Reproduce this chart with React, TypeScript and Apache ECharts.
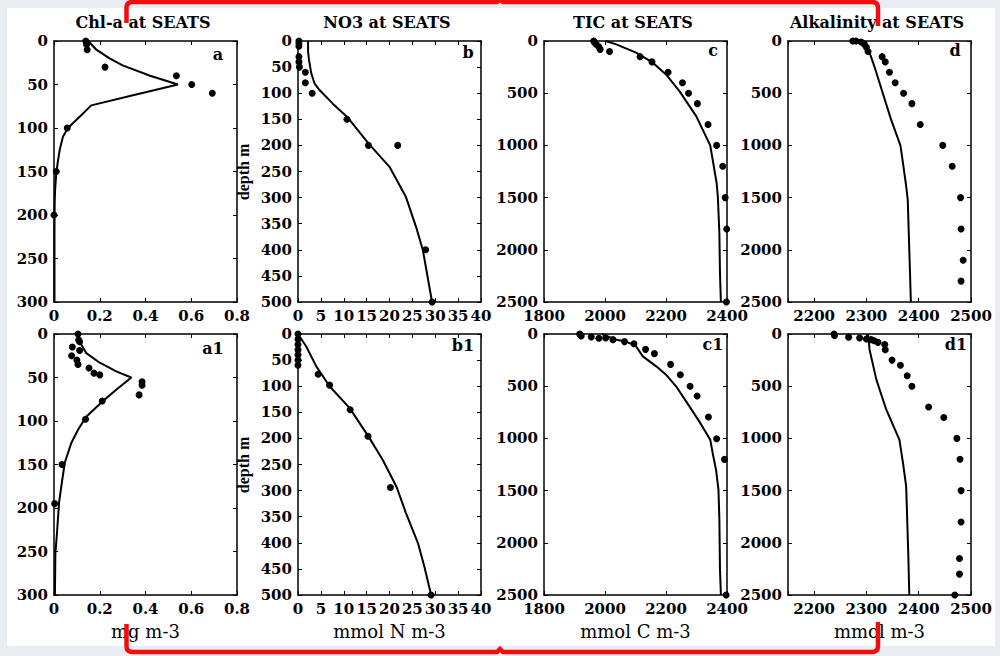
import React, { useEffect, useRef } from "react";
import * as echarts from "echarts";

// ---------- data (value, depth) ----------
const chlaModel: number[][] = [[0.15,0],[0.185,10],[0.243,20],[0.30,28],[0.42,40],[0.542,50],[0.35,62],[0.163,74],[0.12,85],[0.061,100],[0.039,110],[0.025,125],[0.016,140],[0.01,152],[0.005,170],[0.003,185],[0.002,220],[0.002,260],[0.002,300]];
const chlaObs: number[][] = [[0.139,0],[0.142,4],[0.145,10],[0.223,30],[0.535,40],[0.602,50],[0.692,60],[0.058,100],[0.01,150],[0,200]];

const no3Model: number[][] = [[2.2,0],[2.2,20],[2.4,36],[2.9,62],[3.6,81],[4.7,94],[7.6,120],[10.7,145],[15.4,196],[20,241],[23.6,299],[25.8,356],[27.3,401],[29.3,500]];
const no3Obs: number[][] = [[0.2,0],[0.2,5],[0.2,10],[0.2,30],[0.2,40],[0.3,50],[1.6,60],[1.6,80],[3.1,100],[10.7,150],[15.4,200],[21.8,200],[27.9,400],[29.3,500]];

const ticModel: number[][] = [[2002,0],[2037,32],[2102,112],[2157,208],[2200,320],[2244,480],[2299,720],[2345,1000],[2353,1136],[2366,1360],[2370,1490],[2375,1844],[2377,2228],[2380,2500]];
const ticObs: number[][] = [[1963,0],[1966,15],[1971,30],[1980,55],[1984,80],[2015,100],[2115,150],[2154,200],[2207,300],[2254,400],[2274,500],[2303,600],[2338,800],[2366,1000],[2386,1200],[2394,1500],[2399,1800],[2398,2500]];

const alkModel: number[][] = [[2280,0],[2293,32],[2306,112],[2315,240],[2331,496],[2347,751],[2365,1000],[2369,1136],[2376,1391],[2379,1519],[2381,1844],[2383,2164],[2385,2500]];
const alkObs: number[][] = [[2274,0],[2280,0],[2290,10],[2296,30],[2300,60],[2303,100],[2330,150],[2336,200],[2344,300],[2355,400],[2371,500],[2387,600],[2403,800],[2446,1000],[2464,1200],[2480,1500],[2481,1800],[2485,2100],[2481,2300]];

const chla1Model: number[][] = [[0.105,0],[0.119,12],[0.141,22],[0.2,33],[0.272,43],[0.338,50],[0.272,64],[0.214,77],[0.141,95],[0.105,110],[0.076,125],[0.047,148],[0.032,175],[0.022,194],[0.013,229],[0.006,252],[0.004,300]];
const chla1Obs: number[][] = [[0.105,0],[0.108,7],[0.112,9],[0.08,15],[0.112,19],[0.077,25],[0.1,30],[0.105,35],[0.153,39],[0.175,45],[0.2,47],[0.385,55],[0.385,59],[0.372,70],[0.211,77],[0.138,98],[0.035,150],[0.003,195]];

const no31Model: number[][] = [[0,0],[1.8,24],[4,62],[6.9,100],[11.3,142],[15.6,199],[18.5,241],[21.5,292],[23.6,343],[26.2,400],[27.6,445],[29.1,500]];
const no31Obs: number[][] = [[0,0],[0,10],[0,20],[0,30],[0,40],[0,50],[0,60],[4.4,77],[6.9,98],[11.4,145],[15.3,196],[20.2,294],[29.1,500]];

const tic1Model: number[][] = [[1990,0],[2030,50],[2070,75],[2100,110],[2124,214],[2168,310],[2200,390],[2233,501],[2266,645],[2309,837],[2345,1012],[2353,1140],[2364,1300],[2372,1491],[2375,1778],[2377,2257],[2380,2500]];
const tic1Obs: number[][] = [[1917,0],[1920,10],[1922,20],[1955,29],[1980,40],[2002,38],[2026,54],[2064,73],[2095,93],[2133,147],[2162,188],[2215,291],[2247,390],[2279,501],[2302,594],[2339,795],[2366,1003],[2392,1201],[2397,2500]];

const alk1Model: number[][] = [[2303,0],[2306,150],[2319,437],[2338,725],[2363,1012],[2370,1236],[2376,1460],[2378,1778],[2380,2098],[2382,2500]];
const alk1Obs: number[][] = [[2238,0],[2239,15],[2266,30],[2287,38],[2300,48],[2309,54],[2315,64],[2322,80],[2335,100],[2336,150],[2349,250],[2365,300],[2378,400],[2387,500],[2419,700],[2448,800],[2473,1000],[2479,1200],[2481,1500],[2481,1800],[2478,2150],[2478,2300],[2469,2500]];

const titles = ["Chl-a at SEATS", "NO3 at SEATS", "TIC at SEATS", "Alkalinity at SEATS"];
const letters = ["a", "b", "c", "d", "a1", "b1", "c1", "d1"];
const units = ["mg m-3", "mmol N m-3", "mmol C m-3", "mmol m-3"];
const xMins = [0, 0, 1800, 2150];
const xMaxs = [0.8, 40, 2400, 2500];
const xSteps = [0.2, 5, 200, 100];
const depthMaxs = [300, 500, 2500, 2500];
const depthSteps = [50, 50, 500, 500];
const models = [chlaModel, no3Model, ticModel, alkModel, chla1Model, no31Model, tic1Model, alk1Model];
const observations = [chlaObs, no3Obs, ticObs, alkObs, chla1Obs, no31Obs, tic1Obs, alk1Obs];

// ---------- layout ----------
const FONT = "DejaVu Serif";
const LEFTS = [54, 298, 544, 788];
const TOPS = [41, 334];
const GW = 183;
const GH = 261;

export default function App() {
  const ref = useRef<HTMLDivElement>(null);

  useEffect(() => {
    if (!ref.current) return;
    echarts.graphic.registerShape(
      "bracketTop",
      echarts.graphic.extendPath(
        "M126.5,23 L126.5,8 Q126.5,2 132.5,2 L497,2 L500,0 L503,2 L872,2 Q878,2 878,8 L878,26",
        {}
      )
    );
    echarts.graphic.registerShape(
      "bracketBottom",
      echarts.graphic.extendPath(
        "M126.5,624 L126.5,646 Q126.5,652 132.5,652 L497,652 L500,649 L503,652 L872,652 Q878,652 878,646 L878,622",
        {}
      )
    );
    const chart = echarts.init(ref.current, null, { renderer: "svg" });

    const grid: any[] = [];
    const xAxis: any[] = [];
    const yAxis: any[] = [];
    const series: any[] = [];
    const graphic: any[] = [
      { type: "rect", z: -10, silent: true, shape: { x: 7, y: 8, width: 988, height: 638 }, style: { fill: "#ffffff" } },
    ];

    const lineSt = { color: "#000", width: 1.5 };
    const tick = { show: true, inside: true, length: 4, lineStyle: { color: "#000", width: 1 } };
    const labelSt = { fontFamily: FONT, fontSize: 15, fontWeight: "bold", color: "#000" };

    for (let i = 0; i < 8; i++) {
      const col = i % 4;
      const row = Math.floor(i / 4);
      grid.push({ left: LEFTS[col], top: TOPS[row], width: GW, height: GH, show: false });
      const xBase: any = {
        type: "value",
        gridIndex: i,
        min: xMins[col],
        max: xMaxs[col],
        splitLine: { show: false },
        axisLine: { show: true, onZero: false, lineStyle: lineSt },
        axisTick: tick,
      };
      if (xMins[col] % xSteps[col] === 0) xBase.interval = xSteps[col];
      else { xBase.splitNumber = 4; xBase.minInterval = xSteps[col]; xBase.maxInterval = xSteps[col]; }
      xAxis.push({
        ...xBase,
        position: "bottom",
        axisLabel: {
          ...labelSt,
          margin: 6,
          formatter: (v: number) => {
            const r = Math.round(v / xSteps[col]) * xSteps[col];
            if (Math.abs(r - v) > 1e-9) return "";
            return String(Math.round(v * 10) / 10);
          },
        },
        name: row === 1 ? units[col] : "",
        nameLocation: "middle",
        nameGap: 27,
        nameTextStyle: { fontFamily: FONT, fontSize: 18, color: "#000" },
      });
      xAxis.push({ ...xBase, position: "top", axisLabel: { show: false } });
      const yBase: any = {
        type: "value",
        gridIndex: i,
        inverse: true,
        min: 0,
        max: depthMaxs[col],
        interval: depthSteps[col],
        splitLine: { show: false },
        axisLine: { show: true, onZero: false, lineStyle: lineSt },
        axisTick: tick,
      };
      yAxis.push({ ...yBase, position: "left", axisLabel: { ...labelSt, margin: 6, formatter: (v: number) => String(v) } });
      yAxis.push({ ...yBase, position: "right", axisLabel: { show: false } });

      series.push({
        type: "line",
        xAxisIndex: 2 * i,
        yAxisIndex: 2 * i,
        data: models[i],
        showSymbol: false,
        lineStyle: { color: "#000", width: 2 },
        z: 3,
      });
      series.push({
        type: "scatter",
        xAxisIndex: 2 * i,
        yAxisIndex: 2 * i,
        data: observations[i],
        symbolSize: 7,
        itemStyle: { color: "#000", opacity: 1 },
        z: 4,
      });
    }

    const titleX = [143, 387, 633, 877];
    titles.forEach((t, k) => {
      graphic.push({
        type: "text",
        x: titleX[k],
        y: 22,
        style: { text: t, fontFamily: FONT, fontSize: 16, fontWeight: "bold", fill: "#000", align: "center", verticalAlign: "middle" },
      });
    });
    const letterPos = [[218, 54], [468, 52], [713, 50], [955, 50], [213, 348], [463, 345], [713, 344], [956, 344]];
    letters.forEach((l, k) => {
      graphic.push({
        type: "text",
        x: letterPos[k][0],
        y: letterPos[k][1],
        style: { text: l, fontFamily: FONT, fontSize: 16, fontWeight: "bold", fill: "#000", align: "center", verticalAlign: "middle" },
      });
    });
    [172, 465].forEach((cy) => {
      graphic.push({
        type: "text",
        x: 243,
        y: cy,
        rotation: Math.PI / 2,
        style: { text: "depth m", fontFamily: "Liberation Serif", fontSize: 16, fontWeight: "bold", fill: "#000", align: "center", verticalAlign: "middle" },
      });
    });
    graphic.push({ type: "bracketTop", x: 0, y: 0, z: 20, style: { fill: "none", stroke: "#f20d0d", lineWidth: 4.5 } });
    graphic.push({ type: "bracketBottom", x: 0, y: 0, z: 20, style: { fill: "none", stroke: "#f20d0d", lineWidth: 4.5 } });

    chart.setOption({
      animation: false,
      backgroundColor: "#e9ecf1",
      grid,
      xAxis,
      yAxis,
      series,
      graphic,
    });
    return () => chart.dispose();
  }, []);

  return <div ref={ref} style={{ position: "fixed", left: 0, top: 0, width: 1000, height: 656 }} />;
}
